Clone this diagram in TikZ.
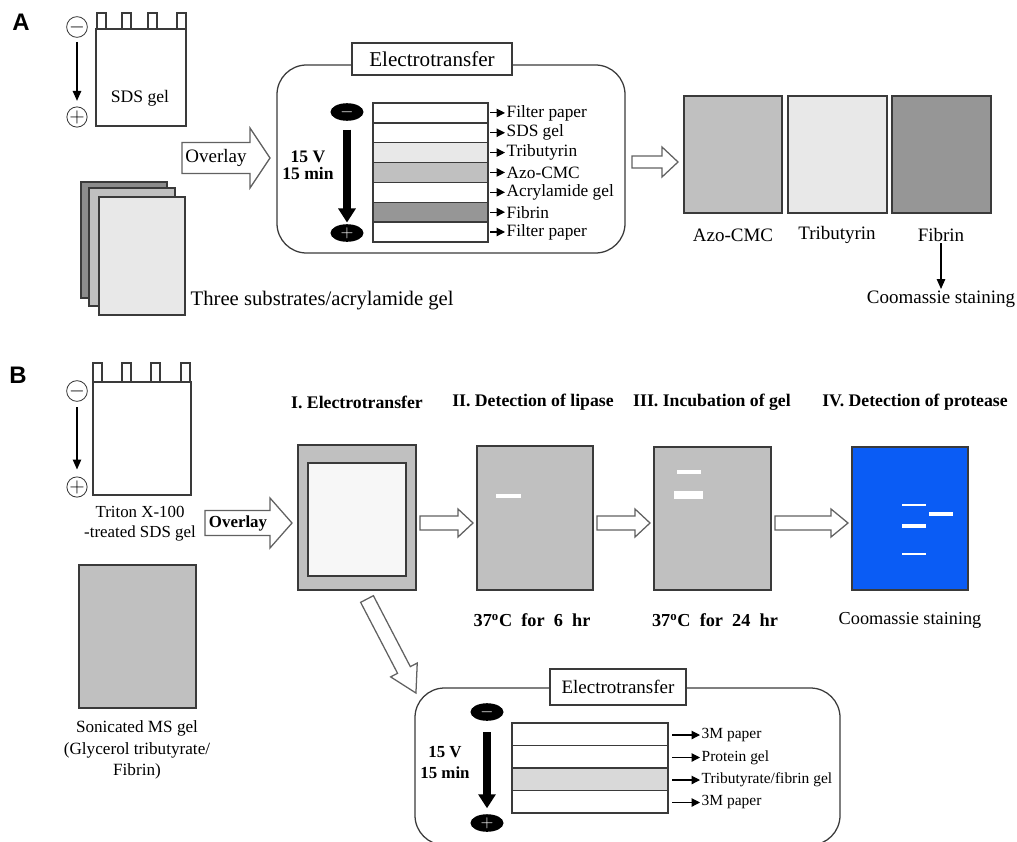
\documentclass[tikz,border=0pt]{standalone}
\usepackage{fontspec}
\setmainfont{Liberation Serif}
\setsansfont{Liberation Sans}
\usetikzlibrary{arrows.meta,shapes.geometric}
\definecolor{lgray}{HTML}{E8E8E8}
\definecolor{mgray}{HTML}{C0C0C0}
\definecolor{dgray}{HTML}{969696}
\definecolor{sgray}{HTML}{8C8C8C}
\definecolor{tgray}{HTML}{D9D9D9}
\definecolor{pale}{HTML}{F7F7F7}
\definecolor{stain}{HTML}{0A5CF5}
\definecolor{edge}{HTML}{3A3A3A}
\newcommand{\fsz}[1]{\fontsize{#1}{#1}\selectfont}
% tail, angle, length, shaft half width, head half width, head length
\newcommand{\blockarrow}[6]{%
  \begin{scope}[shift={#1},rotate=#2]
    \draw[barrow] (0,-#4) -- ({#3-#6},-#4) -- ({#3-#6},-#5) -- (#3,0)
      -- ({#3-#6},#5) -- ({#3-#6},#4) -- (0,#4) -- cycle;
  \end{scope}}
\begin{document}
\begin{tikzpicture}[x=0.025cm,y=-0.025cm,
  gelbox/.style={draw=edge, line width=0.9pt},
  barrow/.style={draw=edge!80, line width=0.9pt, fill=white},
  pole/.style={circle, draw=edge, line width=0.6pt, minimum size=13pt, inner sep=0pt, font=\fsz{14}},
  electrode/.style={ellipse, fill=black, minimum width=23.5pt, minimum height=12.5pt, inner sep=0pt, text=white, font=\fsz{12}},
  lab/.style={inner sep=1pt},
  tip/.style={line width=0.8pt, -{Triangle[length=6pt,width=6pt]}},
  thinarrow/.style={line width=0.8pt, -{Triangle[length=7pt,width=6pt]}},
  bigarrow/.style={line width=5pt, -{Triangle[length=10pt,width=12pt]}},
  panel/.style={font=\sffamily\bfseries\fsz{17}}]
\useasboundingbox (0,0) rectangle (1017,841);

%%% Panel A
\node[panel] (lblA) at (21,22) {A};

% SDS gel with wells
\draw[gelbox, fill=white] (96,29) rectangle (186,126);
\foreach \w in {97,122,148,177}
  \draw[gelbox] (\w,29) -- (\w,13) -- (\w+9,13) -- (\w+9,29);
\node[lab, font=\fsz{12.5}] (sdsA) at (140,98) {SDS gel};
\node[pole] (mA) at (77,27) {$-$};
\node[pole] (pA) at (77,117) {$+$};
\draw[thinarrow, shorten <=3pt, shorten >=4pt] (mA) -- (pA);

% three substrate sheets
\draw[gelbox, fill=sgray] (81,182) rectangle (167,298);
\draw[gelbox, fill=mgray] (89,188) rectangle (175,306);
\draw[gelbox, fill=lgray] (99,197) rectangle (185,315);
\node[lab, anchor=west, font=\fsz{14.7}] (subA) at (189,301) {Three substrates/acrylamide gel};

% overlay arrow
\blockarrow{(182,158)}{0}{88}{15.5}{30}{20}
\node[lab, font=\fsz{13.5}] (ovA) at (216,158) {Overlay};

% electrotransfer box
\draw[edge, line width=0.9pt, rounded corners=21pt] (277,65) rectangle (625,253);
\node[draw=edge, line width=0.9pt, fill=white, minimum width=4cm, minimum height=0.8cm, font=\fsz{15}] (etA) at (432,59) {Electrotransfer};
\foreach \lab/\col [count=\i from 0] in {Filter paper/white, SDS gel/white, Tributyrin/lgray, Azo-CMC/mgray, Acrylamide gel/white, Fibrin/dgray, Filter paper/white} {
  \pgfmathsetmacro{\ytop}{103+\i*19.85}
  \draw[gelbox, fill=\col] (373,\ytop) rectangle (488,\ytop+19.85);
  \node[lab, anchor=west, font=\fsz{12.3}] (la\i) at (505,\ytop+9.9) {\lab};
  \draw[tip] (490,\ytop+9.9) -- (la\i.west);
}
\draw[edge, line width=1.6pt] (373,122.85) -- (488,122.85);
\node[electrode] (eA1) at (347,112) {$-$};
\node[electrode] (eA2) at (347,233) {$+$};
\draw[bigarrow, shorten <=6pt, shorten >=1pt] (eA1) -- (eA2);
\node[lab, font=\bfseries\fsz{12.5}] (vA) at (308,157) {15 V};
\node[lab, font=\bfseries\fsz{12.5}] (tA) at (308,173) {15 min};

% result gels
\blockarrow{(632,162)}{0}{46}{6}{15}{16}
\draw[gelbox, fill=mgray] (684,96) rectangle (782,213);
\draw[gelbox, fill=lgray] (788,96) rectangle (887,213);
\draw[gelbox, fill=dgray] (892,96) rectangle (991,213);
\node[lab, font=\fsz{13.5}] (azo) at (733,235) {Azo-CMC};
\node[lab, font=\fsz{13.5}] (tri) at (837,235) {Tributyrin};
\node[lab, font=\fsz{13.5}] (fib) at (941,235) {Fibrin};
\node[lab, font=\fsz{13.5}] (cooA) at (941,299) {Coomassie staining};
\draw[thinarrow] (fib) -- (cooA);

%%% Panel B
\node[panel] (lblB) at (18,375) {B};

% Triton treated gel
\draw[gelbox, fill=white] (93,382) rectangle (191,495);
\foreach \w in {93,122,151,181}
  \draw[gelbox] (\w,382) -- (\w,363) -- (\w+9,363) -- (\w+9,382);
\node[pole] (mB) at (77,391) {$-$};
\node[pole] (pB) at (77,487) {$+$};
\draw[thinarrow, shorten <=4pt, shorten >=5pt] (mB) -- (pB);
\node[lab, font=\fsz{12}] (trA) at (140,512) {Triton X-100};
\node[lab, font=\fsz{12}] (trB) at (140,533) {-treated SDS gel};

% sonicated gel
\draw[gelbox, fill=mgray] (79,565) rectangle (196,708);
\node[lab, font=\fsz{12.2}] (snA) at (137,728) {Sonicated MS gel};
\node[lab, font=\fsz{12.2}] (snB) at (137,750) {(Glycerol tributyrate/};
\node[lab, font=\fsz{12.2}] (snC) at (137,771) {Fibrin)};

\blockarrow{(205,523)}{0}{87}{12.5}{25}{22}
\node[lab, font=\bfseries\fsz{12}] (ovB) at (238,523) {Overlay};

% steps
\node[lab, font=\bfseries\fsz{12.6}] (st1) at (357,402) {I. Electrotransfer};
\node[lab, font=\bfseries\fsz{12.6}] (st2) at (533,402) {II. Detection of lipase};
\node[lab, font=\bfseries\fsz{12.6}] (st3) at (712,402) {III. Incubation of gel};
\node[lab, font=\bfseries\fsz{12.6}] (st4) at (915,402) {IV. Detection of protease};

\draw[gelbox, fill=mgray] (298,445) rectangle (416,590);
\draw[gelbox, fill=pale] (308,463) rectangle (406,576);
\blockarrow{(420,523)}{0}{53}{7}{14}{15}
\draw[gelbox, fill=mgray] (477,446) rectangle (593,590);
\draw[white, line width=3.5pt] (496,496) -- (521,496);
\blockarrow{(597,523)}{0}{53}{7}{14}{15}
\draw[gelbox, fill=mgray] (654,447) rectangle (771,590);
\draw[white, line width=3.5pt] (677,472) -- (701,472);
\draw[white, line width=5.5pt] (674,495) -- (703,495);
\blockarrow{(775,523)}{0}{73}{7}{14}{17}
\draw[gelbox, fill=stain] (852,447) rectangle (968,590);
\draw[white, line width=2pt] (902,505) -- (926,505);
\draw[white, line width=2.5pt] (929,514) -- (953,514);
\draw[white, line width=3pt] (902,526) -- (926,526);
\draw[white, line width=2pt] (902,554) -- (926,554);

\node[lab, font=\bfseries\fsz{13}] (c1) at (532,620) {37\textsuperscript{o}C\ \ for\ \ 6\ \ hr};
\node[lab, font=\bfseries\fsz{13}] (c2) at (715,620) {37\textsuperscript{o}C\ \ for\ \ 24\ \ hr};
\node[lab, font=\fsz{13}] (c3) at (910,620) {Coomassie staining};

% lower electrotransfer box
\blockarrow{(367,599)}{-62.5}{106}{7.2}{15}{26}
\draw[edge, line width=0.9pt, rounded corners=21pt] (415,688) rectangle (840,845);
\node[draw=edge, line width=0.9pt, fill=white, minimum width=3.4cm, minimum height=0.9cm, font=\fsz{13.5}] (etB) at (618,687) {Electrotransfer};
\foreach \lab/\col [count=\i from 0] in {3M paper/white, Protein gel/white, {Tributyrate/fibrin gel}/tgray, 3M paper/white} {
  \pgfmathsetmacro{\ytop}{723+\i*22.5}
  \draw[gelbox, fill=\col] (512,\ytop) rectangle (668,\ytop+22.5);
  \node[lab, anchor=west, font=\fsz{11}] (lb\i) at (700,\ytop+12) {\lab};
  \draw[tip] (672,\ytop+12) -- (lb\i.west);
}
\node[electrode] (eB1) at (487,712) {$-$};
\node[electrode] (eB2) at (487,823) {$+$};
\draw[bigarrow, shorten <=8pt, shorten >=4pt] (eB1) -- (eB2);
\node[lab, font=\bfseries\fsz{12}] (vB) at (445,752) {15 V};
\node[lab, font=\bfseries\fsz{12}] (tB) at (445,773) {15 min};
\end{tikzpicture}
\end{document}
